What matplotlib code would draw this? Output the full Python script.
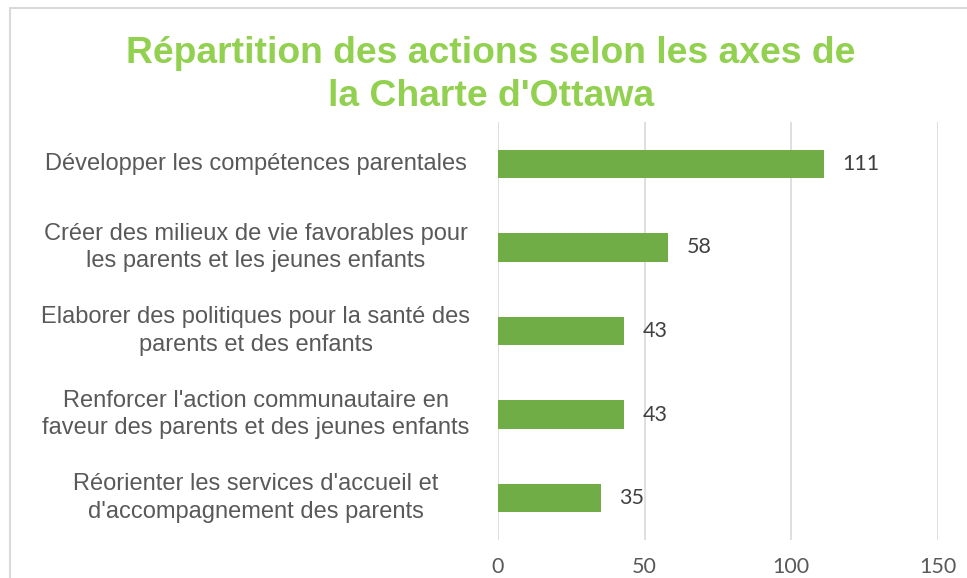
import matplotlib
matplotlib.use("Agg")
import matplotlib.pyplot as plt
from matplotlib.patches import Rectangle
import matplotlib.transforms as mtransforms

categories = [
    "Développer les compétences parentales",
    "Créer des milieux de vie favorables pour\nles parents et les jeunes enfants",
    "Elaborer des politiques pour la santé des\nparents et des enfants",
    "Renforcer l'action communautaire en\nfaveur des parents et des jeunes enfants",
    "Réorienter les services d'accueil et\nd'accompagnement des parents",
]
values = [111, 58, 43, 43, 35]
xticks = [0, 50, 100, 150]
title = "Répartition des actions selon les axes de\nla Charte d'Ottawa"

W, H = 967, 578
fig = plt.figure(figsize=(W / 100, H / 100), dpi=100)

# outer border (cropped chart area)
fig.patches.append(Rectangle((10 / W, -0.1), 1.2, 1 - 8 / H + 0.1, transform=fig.transFigure,
                             fill=False, edgecolor="#D9D9D9", linewidth=1.5, zorder=0))

ax = fig.add_axes([498 / W, 1 - 540 / H, (938 - 498) / W, (540 - 122) / H])
ypos = list(range(len(categories)))
ax.barh(ypos, values, height=0.34, color="#70AD47", zorder=3)
ax.set_ylim(len(categories) - 0.5, -0.5)
ax.set_xlim(0, 150)
ax.set_xticks(xticks)
ax.set_xticklabels([str(t) for t in xticks], fontfamily="Lato", fontsize=15.5, color="#595959")
ax.tick_params(axis="x", length=0, pad=12)
ax.set_yticks([])
ax.grid(axis="x", color="#D9D9D9", linewidth=1.2, zorder=0)
for s in ax.spines.values():
    s.set_visible(False)

for y, v in zip(ypos, values):
    ax.annotate(str(v), (v, y), xytext=(13.5, 0), textcoords="offset points",
                va="center", ha="left", fontfamily="Lato", fontsize=15.5, color="#404040")

trans = mtransforms.blended_transform_factory(ax.transAxes, ax.transData)
for y, c in zip(ypos, categories):
    ax.text((256 - 498) / 440, y, c, transform=trans, ha="center", va="center",
            multialignment="center", fontfamily="Liberation Sans", fontsize=17,
            color="#595959", linespacing=1.32)

fig.text(491 / W, 1 - 75 / H, title, ha="center", va="center", fontfamily="Liberation Sans",
         fontweight="bold", fontsize=26.8, color="#92D050", linespacing=1.32)

fig.savefig("out.png", dpi=100)
